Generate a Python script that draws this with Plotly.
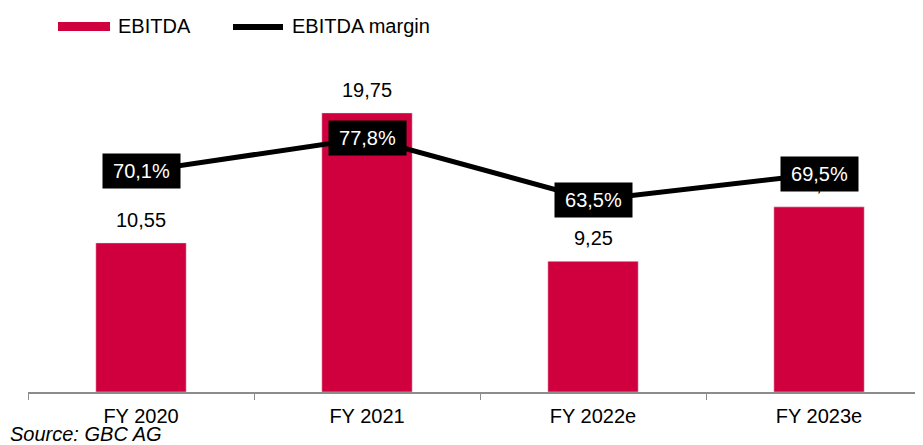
import plotly.graph_objects as go

categories = ["FY 2020", "FY 2021", "FY 2022e", "FY 2023e"]
ebitda = [10.55, 19.75, 9.25, 13.10]
margin = [70.1, 77.8, 63.5, 69.5]

BAR_COLOR = "#CF003D"
FONT = "Liberation Sans, Arial, sans-serif"

def de(v, d):
    return f"{v:.{d}f}".replace(".", ",")

# page body has an 8px margin; pixel positions below are in page coordinates
OFF = 8
W, H = 923 - OFF, 445 - OFF
ML, MR, MT, MB = 28 - OFF, 0, 50 - OFF, 53
pw, ph = W - ML - MR, H - MT - MB

def px_x(px):
    return (px - OFF - ML) / pw

def px_y(py):
    return (H - MB - (py - OFF)) / ph

fig = go.Figure()
fig.add_trace(go.Bar(x=categories, y=ebitda, marker_color=BAR_COLOR, width=0.4,
                     name="EBITDA", showlegend=False))
fig.add_trace(go.Scatter(x=categories, y=margin, yaxis="y2", mode="lines",
                         line=dict(color="black", width=5), name="EBITDA margin",
                         showlegend=False))

annotations = []
for c, v in zip(categories, ebitda):
    annotations.append(dict(x=c, y=v, xref="x", yref="y", text=de(v, 2), showarrow=False,
                            yanchor="bottom", yshift=10, font=dict(size=20, color="black", family=FONT)))
for c, m in zip(categories, margin):
    annotations.append(dict(x=c, y=m, xref="x", yref="y2", text=de(m, 1) + "%", showarrow=False,
                            bgcolor="black", width=75, height=32, borderpad=1,
                            font=dict(size=20, color="white", family=FONT)))
annotations.append(dict(x=px_x(116), y=px_y(26), xref="paper", yref="paper", text="EBITDA",
                        showarrow=False, xanchor="left", yanchor="middle",
                        font=dict(size=20, color="black", family=FONT)))
annotations.append(dict(x=px_x(290), y=px_y(26), xref="paper", yref="paper", text="EBITDA margin",
                        showarrow=False, xanchor="left", yanchor="middle",
                        font=dict(size=20, color="black", family=FONT)))
annotations.append(dict(x=px_x(8), y=px_y(434), xref="paper", yref="paper", xanchor="left",
                        yanchor="middle", text="<i>Source: GBC AG</i>", showarrow=False,
                        font=dict(size=20, color="black", family=FONT)))

shapes = [
    dict(type="rect", xref="paper", yref="paper", x0=px_x(58), x1=px_x(110), y0=px_y(31), y1=px_y(22),
         fillcolor=BAR_COLOR, line=dict(width=0)),
    dict(type="line", xref="paper", yref="paper", x0=px_x(233), x1=px_x(283), y0=px_y(27), y1=px_y(27),
         line=dict(color="black", width=6)),
]

fig.update_layout(
    width=W, height=H,
    margin=dict(l=ML, r=MR, t=MT, b=MB),
    plot_bgcolor="white", paper_bgcolor="white",
    font=dict(family=FONT, size=20, color="black"),
    showlegend=False,
    xaxis=dict(range=[-0.5, 3.46], showline=True, linecolor="#8c8c8c", linewidth=1.5,
               ticks="outside", tickson="boundaries", ticklen=6, tickcolor="#8c8c8c",
               ticklabelstandoff=5,
               tickfont=dict(size=20, color="black", family=FONT), showgrid=False, zeroline=False),
    yaxis=dict(range=[0, 24.2], visible=False, showgrid=False, zeroline=False),
    yaxis2=dict(range=[19.2, 98.1], overlaying="y", visible=False, showgrid=False, zeroline=False),
    annotations=annotations,
    shapes=shapes,
    bargap=0.6,
)

fig.write_html("out.html")
